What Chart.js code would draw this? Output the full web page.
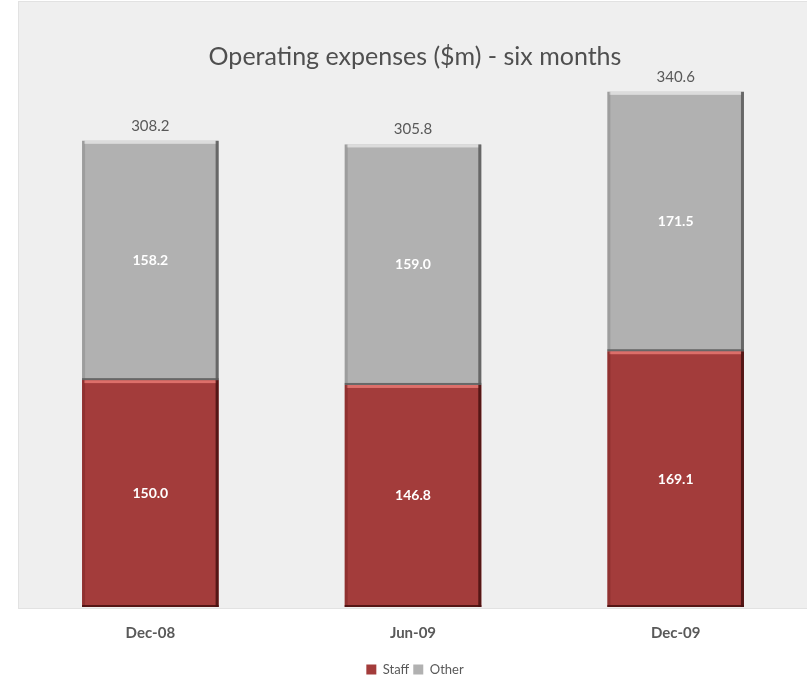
<!DOCTYPE html>
<html>
<head>
<meta charset="utf-8">
<script src="https://cdn.jsdelivr.net/npm/chart.js@4"></script>
<style>
  html, body { margin: 0; padding: 0; background: #ffffff; }
  #wrap { width: 807px; height: 680px; }
</style>
</head>
<body>
<div id="wrap"><canvas id="c" width="807" height="680"></canvas></div>
<script>
// Half-year operating expenses, $m
const periods = ['Dec-08', 'Jun-09', 'Dec-09'];
const staff = [150.0, 146.8, 169.1];
const other = [158.2, 159.0, 171.5];
const chartTitle = 'Operating expenses ($m) - six months';

const FONT = "Lato, 'Open Sans', 'Liberation Sans', sans-serif";
const TEXT_GREY = '#595959';

// Light grey plot panel behind the bars
const panelPlugin = {
  id: 'panel',
  beforeDraw(chart) {
    const { ctx, chartArea: a } = chart;
    ctx.save();
    ctx.fillStyle = '#efefef';
    ctx.fillRect(a.left, a.top - 3, a.right - a.left, a.bottom - a.top + 4);
    ctx.strokeStyle = '#e2e2e2';
    ctx.lineWidth = 1;
    ctx.strokeRect(a.left - 0.5, a.top - 3.5, a.right - a.left + 2, a.bottom - a.top + 5);
    ctx.restore();
  }
};

// Bevelled edges on each bar segment
const bevelPlugin = {
  id: 'bevel',
  afterDatasetsDraw(chart) {
    const { ctx } = chart;
    const shades = [
      { light: 'rgba(230,120,115,0.85)', dark: 'rgba(70,15,15,0.85)', side: 'rgba(110,30,30,0.35)' },
      { light: 'rgba(225,225,225,0.9)', dark: 'rgba(90,90,90,0.85)', side: 'rgba(120,120,120,0.35)' }
    ];
    chart.data.datasets.forEach((ds, di) => {
      const meta = chart.getDatasetMeta(di);
      const s = shades[di];
      meta.data.forEach(bar => {
        const p = bar.getProps(['x', 'y', 'base', 'width'], true);
        const l = p.x - p.width / 2, r = p.x + p.width / 2;
        const t = Math.min(p.y, p.base), b = Math.max(p.y, p.base);
        ctx.save();
        ctx.fillStyle = s.light;
        ctx.fillRect(l + 2, t, r - l - 4, 3);
        ctx.fillStyle = s.side;
        ctx.fillRect(l, t, 3, b - t);
        ctx.fillStyle = s.dark;
        ctx.fillRect(r - 3, t, 3, b - t);
        ctx.fillRect(l, b - 2, r - l, 2);
        ctx.restore();
      });
    });
  }
};

// Segment values, totals and the title drawn over the panel
const labelPlugin = {
  id: 'labels',
  afterDraw(chart) {
    const { ctx } = chart;
    ctx.save();
    ctx.textAlign = 'center';
    ctx.textBaseline = 'middle';
    ctx.font = 'bold 14px ' + FONT;
    ctx.fillStyle = '#ffffff';
    chart.data.datasets.forEach((ds, di) => {
      const meta = chart.getDatasetMeta(di);
      meta.data.forEach((bar, i) => {
        const p = bar.getProps(['x', 'y', 'base'], true);
        ctx.fillText(ds.data[i].toFixed(1), p.x, (p.y + p.base) / 2);
      });
    });
    ctx.font = '15px ' + FONT;
    ctx.fillStyle = TEXT_GREY;
    const top = chart.getDatasetMeta(1);
    top.data.forEach((bar, i) => {
      const total = staff[i] + other[i];
      ctx.fillText(total.toFixed(1), bar.x, bar.y - 15);
    });
    ctx.font = '25px ' + FONT;
    ctx.fillStyle = '#4f4f4f';
    ctx.fillText(chartTitle, 415, 57);
    ctx.restore();
  }
};

new Chart(document.getElementById('c'), {
  type: 'bar',
  data: {
    labels: periods,
    datasets: [
      { label: 'Staff', data: staff, backgroundColor: '#a33c3b', borderWidth: 0 },
      { label: 'Other', data: other, backgroundColor: '#b1b1b1', borderWidth: 0 }
    ]
  },
  options: {
    responsive: false,
    animation: false,
    devicePixelRatio: 1,
    layout: { padding: { left: 19, right: -4, top: 5, bottom: -6 } },
    datasets: { bar: { categoryPercentage: 1.0, barPercentage: 0.52 } },
    scales: {
      x: {
        stacked: true,
        grid: { display: false, drawTicks: false },
        border: { display: false },
        ticks: { color: TEXT_GREY, font: { family: FONT, size: 15, weight: 'bold' }, padding: 17 }
      },
      y: {
        stacked: true,
        display: false,
        min: 0,
        max: 398
      }
    },
    plugins: {
      title: { display: false },
      tooltip: { enabled: false },
      legend: {
        position: 'bottom',
        labels: {
          color: TEXT_GREY,
          font: { family: FONT, size: 13 },
          boxWidth: 10,
          boxHeight: 10,
          padding: 4
        }
      }
    }
  },
  plugins: [panelPlugin, bevelPlugin, labelPlugin]
});
</script>
</body>
</html>
